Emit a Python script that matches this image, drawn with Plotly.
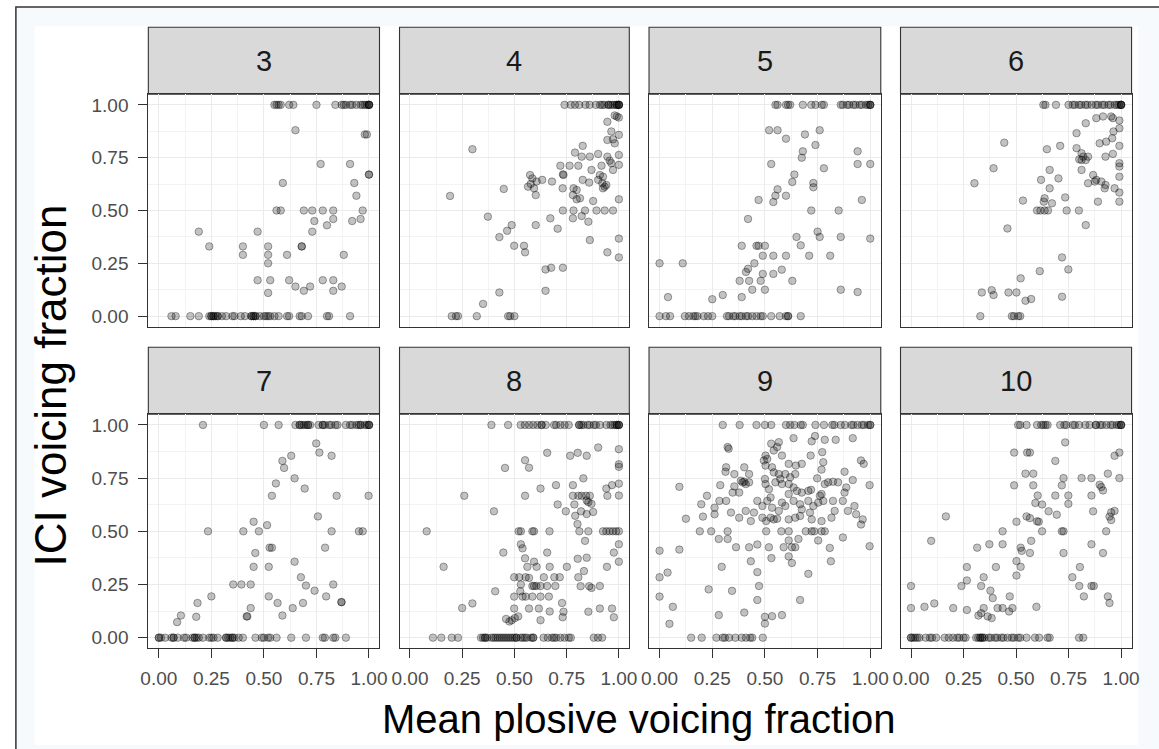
import plotly.graph_objects as go

# ---------------- data ----------------
panels = ["3", "4", "5", "6", "7", "8", "9", "10"]
tick_vals = [0, 0.25, 0.5, 0.75, 1.0]
tick_text = ["0.00", "0.25", "0.50", "0.75", "1.00"]

# panel 3
p3_top = [0.55,0.56,0.57,0.58,0.62,0.64,0.75,0.84,0.87,0.88,0.89,0.91,0.92,0.94,0.96,0.97,0.98,0.99,1.0,1.0,1.0,1.0]
p3_zero = [0.06,0.08,0.15,0.19,0.24,0.25,0.25,0.26,0.26,0.27,0.28,0.28,0.30,0.32,0.35,0.36,0.39,0.41,0.44,0.44,0.45,0.45,0.46,0.46,0.48,0.50,0.51,0.52,0.53,0.55,0.57,0.61,0.62,0.67,0.68,0.71,0.80,0.81,0.91]
p3_mx = [0.65,0.98,0.99,0.77,0.91,1.0,1.0,0.59,0.93,0.94,0.56,0.58,0.69,0.73,0.78,0.83,0.97,0.74,0.83,0.80,0.92,0.96,0.19,0.47,0.73,0.24,0.40,0.52,0.68,0.68,0.40,0.52,0.61,0.88,0.52,0.47,0.53,0.62,0.78,0.83,0.65,0.72,0.69,0.52,0.83,0.87]
p3_my = [0.88,0.86,0.86,0.72,0.72,0.67,0.67,0.63,0.63,0.57,0.5,0.5,0.5,0.5,0.5,0.5,0.5,0.45,0.46,0.43,0.45,0.46,0.4,0.4,0.4,0.33,0.33,0.33,0.33,0.33,0.29,0.29,0.29,0.29,0.25,0.17,0.17,0.17,0.17,0.17,0.14,0.14,0.12,0.11,0.12,0.14]

# panel 4
p4_top = [0.74,0.77,0.79,0.81,0.84,0.86,0.89,0.91,0.92,0.93,0.95,0.95,0.96,0.97,0.98,0.99,0.99,1.0,1.0,1.0,1.0]
p4_zero = [0.20,0.22,0.23,0.32,0.47,0.48,0.50]
p4_mx = [0.99,1.0,0.945,0.98, 0.964,1.0,0.945,0.98,0.972, 0.299,
         0.827,0.79,0.822,0.861,0.901,0.945,0.956,1.0,0.964,1.0,0.972,
         0.72,0.764,0.806,0.732,0.735,0.869,0.917,0.909,0.924,0.901,
         0.575,0.586,0.565,0.606,0.578,0.594,0.602,0.633,0.68,
         0.731,0.783,0.798,0.827,0.858,0.921,0.932,0.924,0.94,1.0,
         0.192,0.449, 0.78,0.798,0.814,0.877,
         0.732,0.783,0.838,0.893,0.932,0.972, 0.78,0.822,0.854,
         0.373,0.487,0.465,0.428,0.602,0.672,0.707, 0.499,0.546,0.551,
         0.861,1.0,0.945,1.0, 0.649,0.676,0.732, 0.428,0.35,0.649]
p4_my = [0.945,0.94,0.92,0.95, 0.874,0.858,0.834,0.818,0.837, 0.79,
         0.806,0.774,0.755,0.755,0.768,0.755,0.736,0.763,0.724,0.716,0.692,
         0.712,0.712,0.712,0.671,0.668,0.692,0.712,0.668,0.66,0.645,
         0.668,0.652,0.613,0.637,0.626,0.605,0.573,0.645,0.637,
         0.605,0.605,0.597,0.645,0.632,0.629,0.613,0.605,0.621,0.553,
         0.569,0.602, 0.573,0.553,0.558,0.545,
         0.5,0.5,0.5,0.5,0.5,0.5, 0.463,0.474,0.447,
         0.471,0.431,0.404,0.374,0.431,0.463,0.414, 0.333,0.333,0.302,
         0.36,0.367,0.302,0.278, 0.221,0.229,0.229, 0.112,0.058,0.12]

# panel 5
p5_top = [0.55,0.56,0.60,0.61,0.62,0.68,0.72,0.74,0.77,0.78,0.86,0.87,0.89,0.90,0.92,0.93,0.95,0.96,0.98,0.99,1.0,1.0,1.0]
p5_zero = [0.0,0.03,0.05,0.12,0.14,0.16,0.17,0.18,0.21,0.23,0.25,0.32,0.33,0.35,0.36,0.38,0.39,0.41,0.42,0.44,0.46,0.48,0.49,0.53,0.57,0.60,0.61,0.61,0.67]
p5_mx = [0.52,0.56,0.60,0.69,0.76,0.74,0.68,0.675,0.94,0.53,0.78,0.94,1.0,0.64,0.63,0.73,0.73,0.56,0.55,0.60,
         0.54,0.47,0.96,0.72,0.85,0.42,0.75,0.76,0.65,0.86,1.0,0.67,0.39,0.46,0.47,0.5,0.49,0.54,0.60,0.71,
         0.81,0.0,0.11,0.45,0.42,0.41,0.49,0.54,0.58,0.38,0.425,0.48,0.63,0.44,0.5,0.86,0.94,0.04,0.25,0.30,0.39]
p5_my = [0.88,0.88,0.84,0.86,0.88,0.81,0.78,0.75,0.78,0.72,0.70,0.72,0.72,0.67,0.635,0.63,0.61,0.60,0.57,0.57,
         0.54,0.55,0.55,0.5,0.5,0.46,0.40,0.375,0.375,0.375,0.367,0.335,0.333,0.333,0.333,0.333,0.286,0.286,0.286,0.286,
         0.286,0.25,0.25,0.25,0.224,0.209,0.2,0.2,0.22,0.167,0.167,0.167,0.167,0.125,0.125,0.125,0.114,0.09,0.08,0.1,0.09]

# panel 6
p6_top = [0.63,0.64,0.69,0.75,0.77,0.78,0.80,0.81,0.83,0.84,0.86,0.88,0.89,0.91,0.92,0.94,0.95,0.97,0.98,0.99,1.0,1.0,1.0,1.0]
p6_zero = [0.33,0.48,0.49,0.51,0.52]
p6_mx = [0.882,0.914,0.953,0.961,0.992,0.832, 0.788,0.964,0.992,0.958,0.898,0.929,0.992, 0.444, 0.647,0.71,0.788,
         0.812,0.82,0.832,0.812,0.801,0.843,0.926,0.961,0.992,0.992, 0.393,
         0.66,0.812,0.702,0.867,0.992,0.882,0.906,
         0.302,0.619,0.843,0.875,0.922,0.926,0.969,0.992, 0.66,0.636,0.734,0.671,
         0.533,0.632,0.89,0.992, 0.6,0.616,0.636,0.652,0.741,0.799, 0.832,0.459,
         0.719,0.613,0.749,0.522, 0.337,0.384,0.393,0.464,0.502,0.545,0.572,0.719]
p6_my = [0.937,0.945,0.945,0.937,0.926,0.913, 0.866,0.874,0.889,0.842,0.818,0.826,0.806, 0.821, 0.79,0.806,0.795,
         0.771,0.755,0.739,0.739,0.742,0.755,0.755,0.768,0.724,0.708, 0.7,
         0.692,0.692,0.652,0.668,0.66,0.645,0.637,
         0.629,0.645,0.629,0.637,0.605,0.621,0.605,0.585, 0.605,0.558,0.562,0.534,
         0.547,0.542,0.542,0.542, 0.5,0.5,0.5,0.5,0.5,0.5, 0.431,0.415,
         0.278,0.213,0.221,0.179, 0.112,0.123,0.1,0.112,0.112,0.073,0.081,0.092]

# panel 7
p7_top = [0.21,0.50,0.57,0.65,0.67,0.67,0.68,0.69,0.70,0.71,0.71,0.72,0.76,0.78,0.78,0.79,0.81,0.82,0.84,0.85,0.89,0.91,0.92,0.94,0.95,0.96,0.96,0.98,0.99,1.0,1.0,1.0]
p7_zero = [0.0,0.0,0.01,0.03,0.06,0.07,0.07,0.09,0.12,0.13,0.16,0.17,0.17,0.18,0.19,0.21,0.24,0.25,0.26,0.28,0.32,0.32,0.33,0.34,0.35,0.35,0.36,0.38,0.40,0.46,0.49,0.50,0.52,0.53,0.56,0.63,0.70,0.78,0.79,0.83,0.84,0.89]
p7_mx = [0.749,0.764,0.822,0.63,0.588,0.596,0.646,0.557,0.694,0.538,0.846,0.998,
         0.757,0.451,0.515,0.234,0.402,0.476,0.822,0.952,0.97,
         0.527,0.538,0.791,0.459, 0.646,0.451,0.523,
         0.676,0.70,0.741,0.354,0.393,0.437,0.83, 0.25,0.523,0.796,
         0.184,0.565,0.686,0.869,0.869, 0.437,0.637,0.105,0.178,0.588,0.418,0.421, 0.087]
p7_my = [0.913,0.87,0.855,0.855,0.831,0.798,0.749,0.725,0.701,0.667,0.667,0.667,
         0.57,0.545,0.529,0.5,0.5,0.5,0.5,0.5,0.5,
         0.423,0.423,0.423,0.398, 0.357,0.333,0.333,
         0.284,0.245,0.221,0.25,0.25,0.25,0.25, 0.194,0.194,0.194,
         0.163,0.163,0.163,0.167,0.167, 0.139,0.139,0.104,0.098,0.104,0.1,0.1, 0.073]

# panel 8
p8_top = [0.39,0.47,0.53,0.55,0.57,0.59,0.61,0.63,0.63,0.65,0.69,0.70,0.72,0.74,0.76,0.81,0.81,0.82,0.83,0.85,0.86,0.88,0.89,0.91,0.94,0.96,0.97,0.98,0.99,0.99,1.0,1.0,1.0]
p8_zero = [0.11,0.15,0.20,0.23,0.34,0.35,0.36,0.36,0.37,0.39,0.40,0.41,0.42,0.43,0.44,0.45,0.46,0.47,0.48,0.49,0.50,0.51,0.51,0.53,0.54,0.55,0.56,0.58,0.59,0.59,0.64,0.66,0.68,0.69,0.70,0.72,0.74,0.76,0.77,0.88,0.90,0.92]
p8_mx = [0.901,0.657,0.803,0.767,0.846,1.0, 0.551,0.57,0.455,1.0,1.0,
         0.83,0.625,0.699,0.78,1.0,0.967,0.94,1.0,
         0.26,0.551,0.78,0.806,0.822,0.843,0.861,0.945,0.854,0.869,0.846,
         0.402,0.707,0.746,0.787,0.819,0.846,0.877,0.791,
         0.08,0.52,0.531,0.586,0.594,0.668,0.811,0.854,0.924,0.94,0.956,0.972,0.987,1.0,
         0.531,0.539,1.0,0.838,0.802,
         0.447,0.551,0.657,0.594,0.976,0.803,0.846,1.0,
         0.161,0.562,0.606,0.669,0.751,0.943,0.833,
         0.499,0.523,0.554,0.57,0.641,0.691,0.717,0.806,
         0.531,0.586,0.594,0.605,0.625,0.657,0.696,0.817,0.858,0.869,0.909,
         0.528,0.408,
         0.499,0.539,0.554,0.586,0.625,0.665,
         0.299,0.25,0.728,0.854,0.909,0.967,0.976,0.499,0.57,0.617,0.669,0.735,0.731,0.518,0.46,0.476,0.487,0.502,0.625]
p8_my = [0.894,0.869,0.869,0.855,0.855,0.886, 0.834,0.799,0.798,0.815,0.803,
         0.749,0.701,0.717,0.717,0.724,0.717,0.701,0.668,
         0.667,0.667,0.667,0.667,0.667,0.667,0.667,0.667,0.637,0.629,0.645,
         0.594,0.626,0.594,0.626,0.594,0.581,0.591,0.573,
         0.5,0.5,0.5,0.5,0.5,0.5,0.5,0.5,0.5,0.5,0.5,0.5,0.5,0.5,
         0.439,0.42,0.439,0.455,0.534,
         0.4,0.373,0.4,0.357,0.4,0.371,0.376,0.357,
         0.333,0.333,0.333,0.333,0.333,0.333,0.313,
         0.284,0.284,0.284,0.281,0.284,0.284,0.284,0.284,
         0.25,0.243,0.243,0.243,0.243,0.243,0.243,0.242,0.242,0.234,0.243,
         0.218,0.218,
         0.193,0.193,0.193,0.193,0.193,0.193,
         0.161,0.139,0.163,0.122,0.137,0.137,0.096,0.137,0.137,0.137,0.123,0.122,0.096,0.1,0.088,0.076,0.082,0.092,0.082]

# panel 9
p9_top = [0.30,0.38,0.46,0.50,0.53,0.60,0.62,0.64,0.67,0.68,0.74,0.78,0.82,0.83,0.86,0.88,0.91,0.92,0.94,0.96,0.97,0.99,1.0,1.0]
p9_zero = [0.15,0.20,0.27,0.30,0.31,0.33,0.36,0.39,0.41,0.43,0.44,0.49]
p9_mx = [0.636,0.738,0.722,0.784,0.836,0.917,
         0.53,0.566,0.558,0.542,0.581,0.717,0.772,
         0.323,0.328,
         0.503,0.495,0.503,0.534,0.511,
         0.613,0.647,0.675,0.777,0.769,0.878,0.956,0.969,
         0.316,0.313,0.355,0.402,0.425,0.394,0.402,0.409,0.386,0.425,0.378,0.347,0.355,0.288,0.094,
         0.5,0.503,0.519,0.542,0.566,0.573,0.597,0.62,0.644,0.55,0.581,0.613,0.636,0.652,0.675,0.706,0.719,0.748,0.784,0.8,0.823,0.847,0.886,0.917,0.997,
         0.225,0.198,0.261,0.284,0.316,0.261,0.206,0.125,0.339,0.378,0.409,0.433,0.448,0.464,0.488,0.511,0.527,0.534,0.566,0.581,
         0.597,0.613,0.636,0.667,0.675,0.706,0.714,0.73,0.753,0.761,0.769,0.777,0.823,0.87,0.878,0.831,0.894,0.925,0.933,0.964,
         0.956,0.816,0.769,0.722,0.667,0.644,0.613,0.558,0.542,0.527,0.488,0.506,
         0.191,0.245,0.281,0.323,0.323,0.363,0.425,0.464,0.506,0.519,0.531,0.578,0.589,0.613,0.613,0.613,0.628,0.644,0.628,0.659,
         0.694,0.722,0.734,0.753,0.769,0.784,0.808,0.813,0.87,0.997,
         0.0,0.094,0.433,0.295,0.0,0.038,0.464,0.706,0.0,0.063,0.233,0.344,0.472,0.464,0.667,0.047,0.281,0.402,0.5,0.534,0.581,0.5]
p9_my = [0.938,0.948,0.923,0.93,0.93,0.938,
         0.912,0.919,0.896,0.88,0.856,0.856,0.872,
         0.896,0.888,
         0.856,0.833,0.809,0.801,0.84,
         0.817,0.809,0.817,0.825,0.79,0.78,0.833,0.817,
         0.801,0.78,0.769,0.801,0.769,0.73,0.733,0.722,0.738,0.73,0.682,0.682,0.711,0.717,0.709,
         0.746,0.722,0.698,0.777,0.769,0.746,0.769,0.754,0.769,0.73,0.722,0.722,0.706,0.69,0.682,0.69,0.695,0.749,0.722,0.73,0.733,0.73,0.706,0.741,0.717,
         0.667,0.627,0.611,0.643,0.643,0.58,0.569,0.559,0.588,0.564,0.596,0.548,0.588,0.643,0.619,0.643,0.659,0.611,0.596,0.635,
         0.619,0.675,0.643,0.627,0.603,0.643,0.588,0.619,0.635,0.667,0.675,0.643,0.643,0.643,0.682,0.596,0.596,0.619,0.58,0.556,
         0.532,0.564,0.548,0.556,0.572,0.564,0.556,0.559,0.556,0.564,0.564,0.548,
         0.5,0.5,0.464,0.5,0.464,0.425,0.425,0.438,0.5,0.425,0.374,0.5,0.425,0.5,0.457,0.382,0.425,0.425,0.351,0.464,
         0.5,0.5,0.5,0.457,0.5,0.5,0.422,0.359,0.471,0.43,
         0.409,0.414,0.359,0.333,0.284,0.306,0.308,0.3,0.193,0.145,0.227,0.22,0.243,0.177,0.177,0.065,0.106,0.118,0.098,0.101,0.106,0.066]

# panel 10
p10_top = [0.51,0.52,0.55,0.60,0.62,0.63,0.64,0.65,0.71,0.73,0.74,0.77,0.78,0.80,0.83,0.85,0.88,0.88,0.90,0.91,0.93,0.95,0.96,0.98,0.99,1.0,1.0,1.0]
p10_zero = [0.0,0.0,0.01,0.02,0.03,0.04,0.07,0.09,0.10,0.12,0.16,0.18,0.20,0.22,0.23,0.25,0.26,0.31,0.32,0.33,0.33,0.34,0.34,0.35,0.37,0.38,0.40,0.41,0.43,0.44,0.46,0.48,0.49,0.51,0.52,0.55,0.59,0.61,0.65,0.66,0.80,0.82]
p10_mx = [0.734,0.491,0.553,0.566,0.969,0.992,0.687,
          0.545,0.582,0.937,0.726,0.812,0.859,0.992,0.491,0.582,0.718,0.898,0.906,0.914,
          0.603,0.592,0.687,0.749,0.859,0.749,0.624,0.655,0.694,0.867,0.953,0.969,0.945,0.953,
          0.166,0.55,0.566,0.6,0.608,0.502,
          0.624,0.436,0.718,0.726,0.929,
          0.096,0.572,0.859,0.914,0.726,
          0.315,0.373,0.436,0.522,0.527,0.566,0.502,0.522,0.404,0.804,0.768,0.502,0.266,0.266,0.24,0.346,0.334,0.378,0.389,0.801,0.859,0.87,0.823,0.937,0.945,0.47,
          0.0,0.0,0.064,0.111,0.201,0.266,0.321,0.346,0.334,0.365,0.384,0.412,0.436,0.467,0.483,0.597]
p10_my = [0.918,0.87,0.87,0.87,0.855,0.87,0.831,
          0.771,0.771,0.771,0.75,0.75,0.75,0.75,0.716,0.716,0.716,0.719,0.708,0.692,
          0.668,0.633,0.668,0.668,0.668,0.629,0.626,0.594,0.578,0.594,0.589,0.596,0.569,0.553,
          0.57,0.57,0.562,0.547,0.545,0.545,
          0.5,0.5,0.5,0.5,0.5,
          0.455,0.455,0.439,0.398,0.398,
          0.423,0.439,0.439,0.423,0.408,0.398,0.36,0.333,0.332,0.332,0.284,0.292,0.332,0.269,0.243,0.284,0.243,0.221,0.186,0.243,0.243,0.243,0.194,0.194,0.163,0.194,
          0.243,0.139,0.145,0.161,0.139,0.13,0.104,0.139,0.115,0.1,0.092,0.139,0.139,0.123,0.139,0.145]

panel_data = [
    (p3_top, p3_zero, p3_mx, p3_my), (p4_top, p4_zero, p4_mx, p4_my),
    (p5_top, p5_zero, p5_mx, p5_my), (p6_top, p6_zero, p6_mx, p6_my),
    (p7_top, p7_zero, p7_mx, p7_my), (p8_top, p8_zero, p8_mx, p8_my),
    (p9_top, p9_zero, p9_mx, p9_my), (p10_top, p10_zero, p10_mx, p10_my),
]

# ---------------- layout geometry (pixels) ----------------
W, H = 1159, 749
def fx(v): return v / W
def fy(v): return 1 - v / H

col_px = [(142.3, 376.7), (397.0, 630.0), (650.0, 885.0), (905.0, 1139.3)]
row_px = [((27.3, 94.3), (94.3, 326.7)), ((347.3, 414.3), (414.3, 648.3))]

FONT = "Liberation Sans, Arial, sans-serif"
fig = go.Figure()
layout = dict(
    width=W, height=H, margin=dict(l=0, r=0, t=0, b=0),
    paper_bgcolor="white", plot_bgcolor="white",
    font=dict(family=FONT), showlegend=False,
)
shapes = [
    dict(type="rect", xref="paper", yref="paper", x0=fx(8), x1=fx(1175), y0=fy(765), y1=fy(7),
         line=dict(color="#333333", width=1.5), fillcolor="#F6FAFD", layer="below"),
    dict(type="rect", xref="paper", yref="paper", x0=fx(27), x1=fx(1146), y0=fy(745), y1=fy(26),
         line=dict(width=0), fillcolor="white", layer="below"),
]
annotations = []

for i, name in enumerate(panels):
    r, c = divmod(i, 4)
    sfx = "" if i == 0 else str(i + 1)
    (sl, sr) = col_px[c]
    (st, sb), (pt, pb) = row_px[r]
    top, zero, mx, my = panel_data[i]
    xs = list(top) + list(zero) + list(mx)
    ys = [1.0] * len(top) + [0.0] * len(zero) + list(my)
    fig.add_trace(go.Scatter(
        x=xs, y=ys, mode="markers", xaxis="x" + sfx, yaxis="y" + sfx,
        marker=dict(size=7.5, color="rgba(0,0,0,0.24)", line=dict(color="rgba(0,0,0,0.34)", width=1)),
        hoverinfo="skip"))
    common = dict(
        range=[-0.05, 1.05], tickvals=tick_vals, ticktext=tick_text,
        showgrid=True, gridcolor="#EBEBEB", gridwidth=1.2,
        minor=dict(tickvals=[0.125, 0.375, 0.625, 0.875], showgrid=True, gridcolor="#F3F3F3", gridwidth=0.8, ticks=""),
        zeroline=False, showline=True, mirror=True, linecolor="#333333", linewidth=1.1,
        ticklen=9, tickwidth=1, tickcolor="#333333",
        tickfont=dict(size=19, color="#4D4D4D", family=FONT), fixedrange=True,
    )
    layout["xaxis" + sfx] = dict(common, domain=[fx(sl), fx(sr)], anchor="y" + sfx,
                                  ticks="outside" if r == 1 else "", showticklabels=(r == 1),
                                  ticklabelstandoff=4)
    layout["yaxis" + sfx] = dict(common, domain=[fy(pb), fy(pt)], anchor="x" + sfx,
                                  ticks="outside" if c == 0 else "", showticklabels=(c == 0),
                                  ticklabelstandoff=6)
    shapes.append(dict(type="rect", xref="paper", yref="paper", x0=fx(sl), x1=fx(sr), y0=fy(sb), y1=fy(st),
                       line=dict(color="#333333", width=1.1), fillcolor="#D9D9D9", layer="below"))
    annotations.append(dict(text=name, xref="paper", yref="paper", x=fx((sl + sr) / 2), y=fy((st + sb) / 2),
                            showarrow=False, xanchor="center", yanchor="middle",
                            font=dict(size=29, color="#1A1A1A", family=FONT)))

annotations.append(dict(text="Mean plosive voicing fraction", xref="paper", yref="paper",
                        x=fx(640), y=fy(719), showarrow=False, xanchor="center", yanchor="middle",
                        font=dict(size=40, color="black", family=FONT)))
annotations.append(dict(text="ICI voicing fraction", xref="paper", yref="paper",
                        x=fx(44), y=fy(385), showarrow=False, xanchor="center", yanchor="middle",
                        textangle=-90, font=dict(size=44, color="black", family=FONT)))

layout["shapes"] = shapes
layout["annotations"] = annotations
fig.update_layout(**layout)
fig.write_html("out.html", config={"displayModeBar": False},
               post_script="document.body.style.margin='0';document.body.style.overflow='hidden';")
